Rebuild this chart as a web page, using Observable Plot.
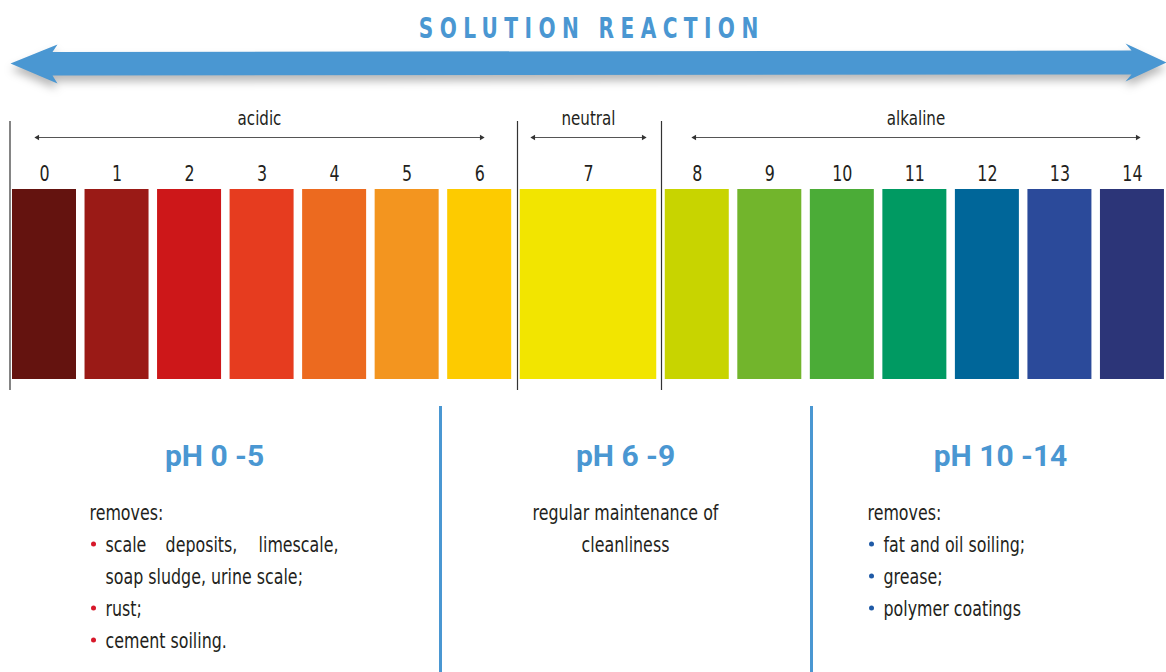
<!DOCTYPE html>
<html>
<head>
<meta charset="utf-8">
<script src="https://cdn.jsdelivr.net/npm/d3@7"></script>
<script src="https://cdn.jsdelivr.net/npm/@observablehq/plot@0.6"></script>
<style>
  html, body { margin: 0; padding: 0; background: #fff; }
  #chart { width: 1166px; height: 672px; }
</style>
</head>
<body>
<div id="chart"></div>
<script>
// ---------- data ----------
const title = "SOLUTION REACTION";
const phValues = [0, 1, 2, 3, 4, 5, 6, 7, 8, 9, 10, 11, 12, 13, 14];
const phColors = ["#64130f", "#9a1a16", "#cd1719", "#e63c1f", "#ec6a1f", "#f3951f", "#fdcb00",
                  "#f2e500", "#c8d400", "#72b52c", "#4bac37", "#009a62", "#006699", "#2b4a9a", "#2c3578"];
const groupNames = ["acidic", "neutral", "alkaline"];
const headings = ["pH 0 -5", "pH 6 -9", "pH 10 -14"];
const acidIntro = "removes:";
const acidItems = ["scale deposits, limescale,", "soap sludge, urine scale;", "rust;", "cement soiling."];
const neutralLines = ["regular maintenance of", "cleanliness"];
const alkIntro = "removes:";
const alkItems = ["fat and oil soiling;", "grease;", "polymer coatings"];

// ---------- layout helpers ----------
const X0 = 12, P = 72.53, GAP = 8.53;          // slot origin, slot pitch, gap between bars (px)
const u = px => (px - X0) / P;                  // layout px -> slot units
const FONT = "'Liberation Sans Narrow', 'DejaVu Sans Condensed', 'Roboto', sans-serif";
const BLUE = "#4a97d2";
const INK = "#231f20";
const SQUEEZE = "squeeze";

// slot of each pH swatch (neutral 7 takes a double slot)
const bars = phValues.map(ph => ({
  ph,
  s1: ph <= 7 ? ph : ph + 1,
  s2: ph < 7 ? ph + 1 : ph + 2
}));

// group spans (in slot units)
const groups = [
  {name: groupNames[0], x1: u(37), x2: u(481)},
  {name: groupNames[1], x1: u(533), x2: u(643)},
  {name: groupNames[2], x1: u(694), x2: u(1137)}
];
const heads = groups.flatMap(g => [{x: g.x1, r: -90}, {x: g.x2, r: 90}]);
const separators = [u(9.5), u(517), u(661)];
const panelRules = [u(440), u(811)];
const headingPos = [u(214), u(625), u(1000)];

// big double arrow outline
const arrow = [
  [10, 63], [57, 44], [52, 51.5], [1131, 50], [1125, 43], [1166, 62],
  [1125, 81], [1131, 74], [52, 75], [57, 83], [10, 63]
].map(([x, y]) => ({x: u(x), y}));

// body text rows
const rowY = [519, 551, 583, 615, 647];
const w0 = acidItems[0].split(" ");
const startText = [
  {x: u(89), y: rowY[0], t: acidIntro},
  {x: u(105), y: rowY[1], t: w0[0]},
  {x: u(105), y: rowY[2], t: acidItems[1]},
  {x: u(105), y: rowY[3], t: acidItems[2]},
  {x: u(105), y: rowY[4], t: acidItems[3]},
  {x: u(867), y: rowY[0], t: alkIntro},
  ...alkItems.map((t, i) => ({x: u(883), y: rowY[i + 1], t}))
];
const middleText = [
  {x: u(201), y: rowY[1], t: w0[1]},
  ...neutralLines.map((t, i) => ({x: u(625), y: rowY[i], t}))
];
const endText = [{x: u(338), y: rowY[1], t: w0[2]}];
const leftBullets = [rowY[1], rowY[3], rowY[4]].map(y => ({x: u(93), y: y - 7.5}));
const rightBullets = alkItems.map((t, i) => ({x: u(871), y: rowY[i + 1] - 7.5}));

const txt = (data, anchor) => Plot.text(data, {x: "x", y: "y", text: "t", textAnchor: anchor,
  fontSize: 21, fill: INK, lineAnchor: "bottom", ariaDescription: SQUEEZE});

const chart = Plot.plot({
  width: 1166,
  height: 672,
  margin: 0,
  style: {fontFamily: FONT, background: "#fff", overflow: "visible"},
  x: {type: "linear", domain: [u(0), u(1166)], axis: null},
  y: {type: "linear", domain: [0, 672], range: [0, 672], axis: null},
  color: {type: "ordinal", domain: phValues, range: phColors},
  marks: [
    // big arrow with shadow
    Plot.line(arrow, {x: "x", y: "y", fill: BLUE, stroke: "none", curve: "linear",
      imageFilter: "drop-shadow(0px 6px 4px rgba(0,0,0,0.28))"}),
    Plot.text([title], {x: u(588), y: 37, text: d => d, fontSize: 28, fontWeight: "bold",
      fill: BLUE, lineAnchor: "bottom", ariaDescription: "title"}),
    // group labels & arrows
    Plot.link(groups, {x1: "x1", x2: "x2", y1: 137, y2: 137, stroke: "#555", strokeWidth: 1}),
    Plot.dot(heads, {x: "x", y: 137, symbol: "triangle2", r: 2.6, rotate: "r", fill: "#333", stroke: "none"}),
    Plot.text(groups, {x: d => (d.x1 + d.x2) / 2, y: 124, text: "name", fontSize: 20,
      fill: INK, lineAnchor: "bottom", ariaDescription: SQUEEZE}),
    Plot.ruleX(separators, {x: d => d, y1: 121, y2: 390, stroke: "#333", strokeWidth: 1.2}),
    // swatches
    Plot.rect(bars, {x1: "s1", x2: "s2", y1: 189, y2: 379, fill: "ph", insetRight: GAP}),
    Plot.text(bars, {x: d => (d.s1 + d.s2) / 2 - GAP / 2 / P, y: 180, text: d => String(d.ph),
      fontSize: 21, fill: INK, lineAnchor: "bottom", ariaDescription: SQUEEZE}),
    // lower panels
    Plot.ruleX(panelRules, {x: d => d, y1: 406, y2: 672, stroke: BLUE, strokeWidth: 3}),
    Plot.text(headings, {x: (d, i) => headingPos[i], y: 465, text: d => d, fontSize: 30,
      fontWeight: "bold", fill: BLUE, lineAnchor: "bottom", fontFamily: "Roboto, 'Open Sans', sans-serif"}),
    txt(startText, "start"),
    txt(middleText, "middle"),
    txt(endText, "end"),
    Plot.dot(leftBullets, {x: "x", y: "y", r: 2.5, fill: "#d7182a", stroke: "none"}),
    Plot.dot(rightBullets, {x: "x", y: "y", r: 2.5, fill: "#1f5aa6", stroke: "none"})
  ]
});

// condensed look: squeeze glyphs horizontally about each text's anchor
const squeeze = (sel, k) => sel.each(function () {
  const t = this.getAttribute("transform") || "";
  this.setAttribute("transform", `${t} scale(${k},1)`);
});
squeeze(d3.select(chart).selectAll(`g[aria-description="${SQUEEZE}"] text`), 0.84);
// title: letter-spaced, condensed bold
const tt = d3.select(chart).selectAll(`g[aria-description="title"] text`)
  .attr("letter-spacing", 8).attr("dx", 4);
squeeze(tt, 0.8);

document.getElementById("chart").appendChild(chart);
</script>
</body>
</html>
